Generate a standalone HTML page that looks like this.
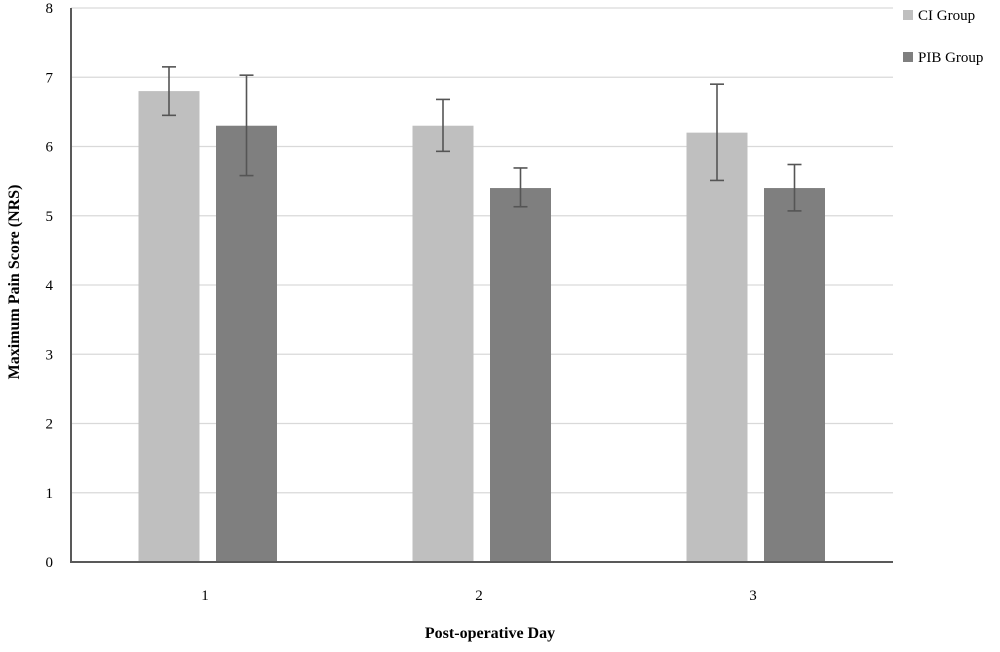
<!DOCTYPE html>
<html><head><meta charset="utf-8"><style>
body{margin:0;background:#fff}
svg{display:block;font-family:"Liberation Serif","DejaVu Serif",serif}
</style></head><body>
<svg id="chart" width="1000" height="652"></svg>
<script>
const categories=["1","2","3"];
const ciValues=[6.8,6.3,6.2];
const ciLow=[6.45,5.93,5.51];
const ciHigh=[7.15,6.68,6.9];
const pibValues=[6.3,5.4,5.4];
const pibLow=[5.58,5.13,5.07];
const pibHigh=[7.03,5.69,5.74];
const yTicks=[0,1,2,3,4,5,6,7,8];

const NS="http://www.w3.org/2000/svg";
const svg=document.getElementById('chart');
const x0=71,x1=893,y0=562,yMax=8,unit=(562-8)/8;
const band=(x1-x0)/categories.length;
const y=v=>y0-v*unit;
const cx=i=>x0+band*(i+0.5);
function el(t,a,p){const e=document.createElementNS(NS,t);for(const k in a)e.setAttribute(k,a[k]);(p||svg).appendChild(e);return e;}

yTicks.forEach(t=>{
  if(t>0){const g=el('line',{x1:x0,x2:x1,y1:y(t),y2:y(t),stroke:'#d9d9d9','stroke-width':1.2});
  
  }
  const l=el('text',{x:x0-18,y:y(t)+5,'text-anchor':'end','font-size':15,fill:'#000'});
  l.textContent=t;
  
  
});

function drawSeries(vals,lo,hi,off,color,name){
  vals.forEach((v,i)=>{
    const c=cx(i)+off;
    const r=el('rect',{x:c-30.5,y:y(v),width:61,height:y0-y(v),fill:color});
    
    
    const g=el('g',{stroke:'#555','stroke-width':1.6});
    
    
    el('line',{x1:c,x2:c,y1:y(hi[i]),y2:y(lo[i])},g);
    el('line',{x1:c-7,x2:c+7,y1:y(hi[i]),y2:y(hi[i])},g);
    el('line',{x1:c-7,x2:c+7,y1:y(lo[i]),y2:y(lo[i])},g);
  });
}
drawSeries(ciValues,ciLow,ciHigh,-39,'#bfbfbf','ci');
drawSeries(pibValues,pibLow,pibHigh,38.5,'#7f7f7f','pib');

const ax=el('path',{d:`M${x0} 8 V${y0} H${x1}`,fill:'none',stroke:'#595959','stroke-width':2});



categories.forEach((c,i)=>{
  const t=el('text',{x:cx(i)-3,y:600,'text-anchor':'middle','font-size':15});
  t.textContent=c;
  
  
});
const xt=el('text',{x:490,y:638,'text-anchor':'middle','font-size':16,'font-weight':'bold'});
xt.textContent='Post-operative Day';


const yt=el('text',{x:0,y:0,'text-anchor':'middle','font-size':16,'font-weight':'bold',transform:'translate(19,282) rotate(-90)'});
yt.textContent='Maximum Pain Score (NRS)';



[['CI Group','#bfbfbf',10],['PIB Group','#7f7f7f',52]].forEach(([n,c,yy])=>{
  const g=el('g',{});
  
  
  el('rect',{x:903,y:yy,width:10,height:10,fill:c},g);
  const t=el('text',{x:918,y:yy+10,'font-size':15},g);
  t.textContent=n;
});
</script>
</body></html>
